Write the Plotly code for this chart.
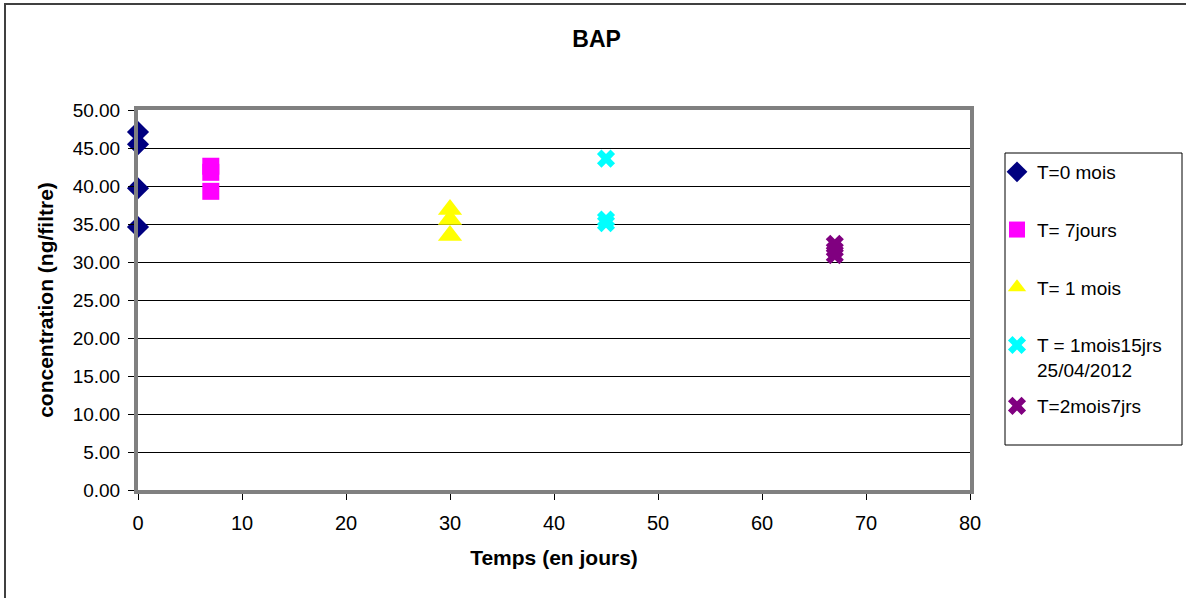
import plotly.graph_objects as go

# Data
series_names = ["T=0 mois", "T= 7jours", "T= 1 mois", "T = 1mois15jrs<br>25/04/2012", "T=2mois7jrs"]
t0_x = [0, 0, 0, 0]
t0_y = [47.1, 45.5, 39.7, 34.6]
t7_x = [7, 7, 7]
t7_y = [42.6, 41.8, 39.3]
t30_x = [30, 30, 30]
t30_y = [36.9, 35.6, 33.5]
t45_x = [45, 45, 45]
t45_y = [43.6, 35.6, 35.1]
t67_x = [67, 67, 67]
t67_y = [32.4, 31.6, 30.9]

x_ticks = [0, 10, 20, 30, 40, 50, 60, 70, 80]
y_ticks = [0, 5, 10, 15, 20, 25, 30, 35, 40, 45, 50]

styles = [
    dict(symbol="diamond", color="#000080", size=17),
    dict(symbol="square", color="#FF00FF", size=17),
    dict(symbol="triangle-up", color="#FFFF00", size=21),
    dict(symbol="x", color="#00FFFF", size=16),
    dict(symbol="x", color="#800080", size=16),
]
xs = [t0_x, t7_x, t30_x, t45_x, t67_x]
ys = [t0_y, t7_y, t30_y, t45_y, t67_y]
legend_ids = ["legend", "legend", "legend", "legend", "legend2"]

fig = go.Figure()
for i, (name, x, y, st) in enumerate(zip(series_names, xs, ys, styles)):
    fig.add_trace(go.Scatter(
        x=x, y=y, mode="markers", name=name, legendgroup=f"g{i}",
        legend=legend_ids[i],
        cliponaxis=False,
        marker=dict(symbol=st["symbol"], color=st["color"], size=st["size"],
                    line=dict(width=0)),
    ))

W, H = 1186, 598
L, R, T, B = 138, 970, 110, 490
pw = R - L
ph = B - T

def px_x(p):
    return (p - L) / pw

def px_y(p):
    return (B - p) / ph

leg_common = dict(
    xanchor="left", yanchor="top",
    bgcolor="rgba(0,0,0,0)", borderwidth=0,
    tracegroupgap=30, valign="top",
    font=dict(size=19, color="black"),
    itemwidth=30,
)

fig.update_layout(
    width=W, height=H,
    margin=dict(l=L, r=W - R, t=T, b=H - B),
    paper_bgcolor="white", plot_bgcolor="white",
    font=dict(family="Liberation Sans, Arial, sans-serif", size=20, color="black"),
    title=dict(text="<b>BAP</b>", x=0.503, xref="container", xanchor="center",
               y=1 - 39 / H, yanchor="middle", font=dict(size=23)),
    showlegend=True,
    legend=dict(x=px_x(997), y=px_y(153), **leg_common),
    legend2=dict(x=px_x(997), y=px_y(387), **leg_common),
    xaxis=dict(
        range=[0, 80], tickvals=x_ticks, ticktext=[str(v) for v in x_ticks],
        showgrid=False, zeroline=False,
        showline=True, linecolor="#808080", linewidth=4, mirror=True,
        ticks="outside", ticklen=6, tickcolor="black", tickwidth=1,
        tickfont=dict(size=20), ticklabelstandoff=6,
        title=dict(text="<b>Temps (en jours)</b>", standoff=18, font=dict(size=21)),
    ),
    yaxis=dict(
        range=[0, 50], tickvals=y_ticks, ticktext=[f"{v:.2f}" for v in y_ticks],
        showgrid=True, gridcolor="black", gridwidth=1, zeroline=False,
        showline=True, linecolor="#808080", linewidth=4, mirror=True,
        ticks="outside", ticklen=6, tickcolor="black", tickwidth=1,
        tickfont=dict(size=19), ticklabelstandoff=4,
        title=dict(text="<b>concentration (ng/filtre)</b>", standoff=14, font=dict(size=21)),
    ),
    shapes=[
        dict(type="rect", xref="paper", yref="paper",
             x0=px_x(5), x1=px_x(1195), y0=px_y(610), y1=px_y(4),
             line=dict(color="#404040", width=2), layer="below"),
        dict(type="rect", xref="paper", yref="paper",
             x0=px_x(1005), x1=px_x(1182), y0=px_y(445), y1=px_y(153),
             line=dict(color="black", width=1), fillcolor="white", layer="below"),
    ],
)

fig.write_html("out.html")
